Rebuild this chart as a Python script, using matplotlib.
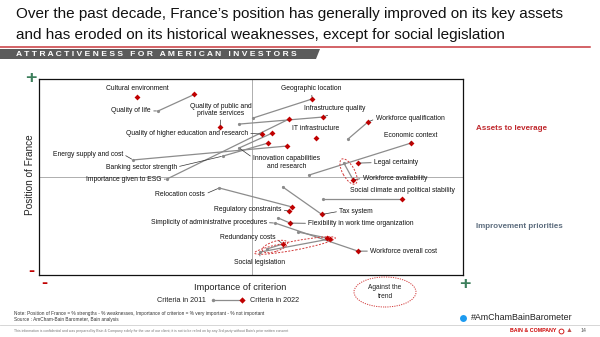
import numpy as np
import matplotlib
matplotlib.use("Agg")
import matplotlib.pyplot as plt
from matplotlib.lines import Line2D
from matplotlib.patches import Ellipse, Polygon
from matplotlib.transforms import IdentityTransform

plt.rcParams["font.family"] = ["Liberation Sans", "DejaVu Sans"]

# ---------------------------------------------------------------------------
# Data: importance of criterion (x) and position of France (y), 2011 -> 2022
# ---------------------------------------------------------------------------
criteria = [
    "Cultural environment",
    "Quality of life",
    "Quality of public and private services",
    "Quality of higher education and research",
    "Geographic location",
    "Infrastructure quality",
    "IT infrastructure",
    "Workforce qualification",
    "Economic context",
    "Energy supply and cost",
    "Banking sector strength",
    "Innovation capabilities and research",
    "Importance given to ESG",
    "Legal certainty",
    "Workforce availability",
    "Social climate and political stability",
    "Relocation costs",
    "Regulatory constraints",
    "Tax system",
    "Simplicity of administrative procedures",
    "Flexibility in work time organization",
    "Redundancy costs",
    "Workforce overall cost",
    "Social legislation",
]
x_2011 = [23.1, 28.1, 42.7, 52.6, 50.5, 47.2, 65.3, 72.9, 63.7, 22.2, 43.4, 47.2,
          30.2, 75.2, 71.9, 67.0, 42.5, 59.0, 57.5, 61.1, 56.4, 53.8, 55.7, 52.1]
y_2011 = [90.8, 83.7, 75.5, 71.9, 80.1, 77.0, 69.9, 69.4, 51.0, 58.7, 60.7, 64.8,
          49.0, 57.1, 57.1, 38.8, 44.4, 32.7, 44.9, 21.9, 29.1, 13.3, 26.5, 11.7]
x_2022 = [23.1, 36.6, 42.7, 52.6, 64.4, 67.0, 65.3, 77.6, 87.7, 58.5, 54.0, 55.0,
          59.0, 75.2, 74.1, 85.6, 59.7, 59.0, 66.7, 67.9, 59.2, 57.5, 75.2, 68.6]
y_2022 = [90.8, 92.1, 75.5, 71.9, 89.8, 80.6, 69.9, 78.1, 67.3, 65.8, 67.3, 72.4,
          79.6, 57.1, 48.5, 38.8, 34.7, 32.7, 30.9, 18.9, 26.5, 15.8, 12.2, 18.4]
against_trend = ["Workforce availability", "Social legislation", "Redundancy costs"]

# Label layout: text, x, y, ha, leader target (criterion, end) or None
label_layout = [
    ("Cultural environment", 23.1, 94.9, "center", None),
    ("Quality of life", 26.4, 83.7, "right", ("Quality of life", 0)),
    ("Quality of public and\nprivate services", 42.9, 84.2, "center",
     ("Quality of public and private services", 1)),
    ("Quality of higher education and research", 49.3, 72.3, "right",
     ("Quality of higher education and research", 1)),
    ("Geographic location", 64.3, 94.9, "center", ("Geographic location", 1)),
    ("Infrastructure quality", 69.8, 84.7, "center", ("Infrastructure quality", 1)),
    ("IT infrastructure", 65.3, 74.8, "center", None),
    ("Workforce qualification", 79.4, 79.7, "left", ("Workforce qualification", 1)),
    ("Economic context", 87.7, 71.2, "center", ("Economic context", 1)),
    ("Energy supply and cost", 19.8, 61.7, "right", ("Energy supply and cost", 0)),
    ("Banking sector strength", 32.5, 55.1, "right", ("Banking sector strength", 0)),
    ("Innovation capabilities\nand research", 58.4, 57.5, "center",
     ("Innovation capabilities and research", 0)),
    ("Importance given to ESG", 28.9, 48.8, "right", ("Importance given to ESG", 0)),
    ("Legal certainty", 79.0, 57.3, "left", ("Legal certainty", 1)),
    ("Workforce availability", 76.3, 49.3, "left", ("Workforce availability", 1)),
    ("Social climate and political stability", 73.3, 43.0, "left", None),
    ("Relocation costs", 39.2, 41.3, "right", ("Relocation costs", 0)),
    ("Regulatory constraints", 57.2, 33.2, "right", ("Regulatory constraints", 1)),
    ("Tax system", 70.8, 32.5, "left", ("Tax system", 1)),
    ("Simplicity of administrative procedures", 53.7, 26.7, "right",
     ("Workforce overall cost", 0)),
    ("Flexibility in work time organization", 63.5, 26.4, "left",
     ("Flexibility in work time organization", 1)),
    ("Redundancy costs", 55.7, 18.9, "right", ("Redundancy costs", 1)),
    ("Workforce overall cost", 78.1, 12.2, "left", ("Workforce overall cost", 1)),
    ("Social legislation", 52.1, 6.5, "center", ("Social legislation", 0)),
]

GREY = "#8c8c8c"
RED = "#c00000"
DASH_RED = "#d23a3a"
LABEL_FS = 4.9
W, H = 600, 337


def fx(px):
    return px / W


def fy(py):
    return 1 - py / H


fig = plt.figure(figsize=(6, 3.37), dpi=100)

# ---------------------------------------------------------------------------
# Header
# ---------------------------------------------------------------------------
fig.text(fx(16), fy(14), "Over the past decade, France\u2019s position has generally improved on its key assets",
         fontsize=11, va="center", ha="left", color="#111111")
fig.text(fx(16), fy(35), "and has eroded on its historical weaknesses, except for social legislation",
         fontsize=11, va="center", ha="left", color="#111111")
fig.add_artist(Line2D([0, fx(590)], [fy(46.5)] * 2, color="#c8383d", lw=1.1))
fig.add_artist(Polygon([[0, fy(49)], [fx(320), fy(49)], [fx(316), fy(59)], [0, fy(59)]],
                       closed=True, facecolor="#5b5b5b", edgecolor="none"))
banner = "   ".join(" ".join(w) for w in "ATTRACTIVENESS FOR AMERICAN INVESTORS".split())
fig.text(fx(16), fy(54), banner, fontsize=6.1, weight="bold", color="white",
         va="center", ha="left")

# ---------------------------------------------------------------------------
# Matrix
# ---------------------------------------------------------------------------
ax = fig.add_axes([fx(39), fy(275), 424 / W, 196 / H])
ax.set_xlim(0, 100)
ax.set_ylim(0, 100)
ax.set_xticks([])
ax.set_yticks([])
for s in ax.spines.values():
    s.set_color("#111111")
    s.set_linewidth(0.9)
ax.axvline(50.2, color="#444444", ls=(0, (1.2, 1.2)), lw=0.6, zorder=1)
ax.axhline(50.2, color="#444444", ls=(0, (1.2, 1.2)), lw=0.6, zorder=1)

for i in range(len(criteria)):
    ax.plot([x_2011[i], x_2022[i]], [y_2011[i], y_2022[i]], color=GREY, lw=0.9, zorder=2)
ax.plot(x_2011, y_2011, "o", color=GREY, ms=2.3, zorder=3, mec="none")
ax.plot(x_2022, y_2022, "D", color=RED, ms=3.0, zorder=4, mec="none")

points = {c: ((x_2011[i], y_2011[i]), (x_2022[i], y_2022[i])) for i, c in enumerate(criteria)}

for text, lx, ly, ha, target in label_layout:
    if target is None:
        ax.text(lx, ly, text, fontsize=LABEL_FS, ha=ha, va="center", color="#111111",
                linespacing=1.1, zorder=5)
        continue
    tx, ty = points[target[0]][target[1]]
    if ha == "right":
        relpos = (1, 0.5)
    elif ha == "left":
        relpos = (0, 0.5)
    elif "\n" in text and tx < lx - 5:
        relpos = (0, 0.8)
    else:
        relpos = (0.5, 0) if ty < ly else (0.5, 1)
    ax.annotate(text, xy=(tx, ty), xytext=(lx, ly), fontsize=LABEL_FS, ha=ha, va="center",
                color="#111111", linespacing=1.1, zorder=5,
                arrowprops=dict(arrowstyle="-", color="#333333", lw=0.5,
                                shrinkA=0, shrinkB=1.2, relpos=relpos))


def trend_ellipse(name, pad_along, half_width):
    (x0, y0), (x1, y1) = points[name]
    p0 = ax.transData.transform((x0, y0))
    p1 = ax.transData.transform((x1, y1))
    d = p1 - p0
    length = np.hypot(*d) + 2 * pad_along
    ang = np.degrees(np.arctan2(d[1], d[0]))
    e = Ellipse((p0 + p1) / 2, length, 2 * half_width, angle=ang, transform=IdentityTransform(),
                fill=False, edgecolor=DASH_RED, lw=0.7, ls=(0, (2, 1.5)), zorder=6)
    fig.add_artist(e)


fig.canvas.draw()
trend_ellipse("Workforce availability", 4.5, 6)
trend_ellipse("Social legislation", 5.5, 4.5)
trend_ellipse("Redundancy costs", 5, 5)

# Axis signs and titles
fig.text(fx(31), fy(79), "+", fontsize=14, weight="bold", color="#3d7f5c", ha="center", va="center")
fig.text(fx(31), fy(272), "-", fontsize=13, weight="bold", color="#c00000", ha="center", va="center")
fig.text(fx(44), fy(284), "-", fontsize=13, weight="bold", color="#c00000", ha="center", va="center")
fig.text(fx(465), fy(284), "+", fontsize=14, weight="bold", color="#3d7f5c", ha="center", va="center")
fig.text(fx(30), fy(175), "Position of France", rotation=90, fontsize=7.2, ha="center", va="center",
         color="#222222")
fig.text(fx(240), fy(287), "Importance of criterion", fontsize=6.7, ha="center", va="center",
         color="#222222")

fig.text(fx(476), fy(128), "Assets to leverage", fontsize=5.8, weight="bold", color="#c0282d",
         ha="left", va="center")
fig.text(fx(476), fy(226), "Improvement priorities", fontsize=5.8, weight="bold", color="#5d6d7e",
         ha="left", va="center")

# Legend
fig.text(fx(206), fy(300), "Criteria in 2011", fontsize=5.2, ha="right", va="center", color="#222222")
fig.add_artist(Line2D([fx(213), fx(242)], [fy(300)] * 2, color=GREY, lw=0.9))
fig.add_artist(Line2D([fx(213)], [fy(300)], marker="o", color=GREY, ms=2.5, mec="none"))
fig.add_artist(Line2D([fx(242)], [fy(300)], marker="D", color=RED, ms=3.2, mec="none"))
fig.text(fx(250), fy(300), "Criteria in 2022", fontsize=5.2, ha="left", va="center", color="#222222")

fig.add_artist(Ellipse((385, H - 292), 62, 30, transform=IdentityTransform(), fill=False,
                       edgecolor=DASH_RED, lw=0.7, ls=(0, (1.2, 1.2))))
fig.text(fx(385), fy(292), "Against the\ntrend", fontsize=4.8, ha="center", va="center",
         color="#222222", linespacing=1.3)

# Footer
fig.text(fx(14), fy(313), "Note: Position of France = % strengths - % weaknesses, Importance of criterion = "
         "% very important - % not important", fontsize=3.4, ha="left", va="center", color="#333333")
fig.text(fx(14), fy(319), "Source : AmCham-Bain Barometer, Bain analysis", fontsize=3.4,
         ha="left", va="center", color="#333333")
fig.add_artist(Line2D([0, 1], [fy(325)] * 2, color="#d0d0d0", lw=0.6))
fig.text(fx(14), fy(331), "This information is confidential and was prepared by Bain & Company solely for the "
         "use of our client; it is not to be relied on by any 3rd party without Bain's prior written consent",
         fontsize=2.5, ha="left", va="center", color="#777777")
fig.add_artist(Line2D([fx(463)], [fy(318)], marker="o", color="#1d9bf0", ms=5, mec="none"))
fig.text(fx(471), fy(318), "#AmChamBainBarometer", fontsize=6.4, ha="left", va="center",
         color="#222222")
fig.text(fx(556), fy(331), "BAIN & COMPANY", fontsize=3.8, weight="bold", ha="right", va="center",
         color="#cc0000")
fig.add_artist(Line2D([fx(561)], [fy(331)], marker="o", color="#cc0000", ms=3.5, mfc="none", mew=0.6))
fig.text(fx(569), fy(330), "\u25b2", fontsize=5, ha="center", va="center", color="#c0504d")
fig.text(fx(583), fy(331), "14", fontsize=3.8, ha="center", va="center", color="#555555")

fig.savefig("out.png", dpi=100)
